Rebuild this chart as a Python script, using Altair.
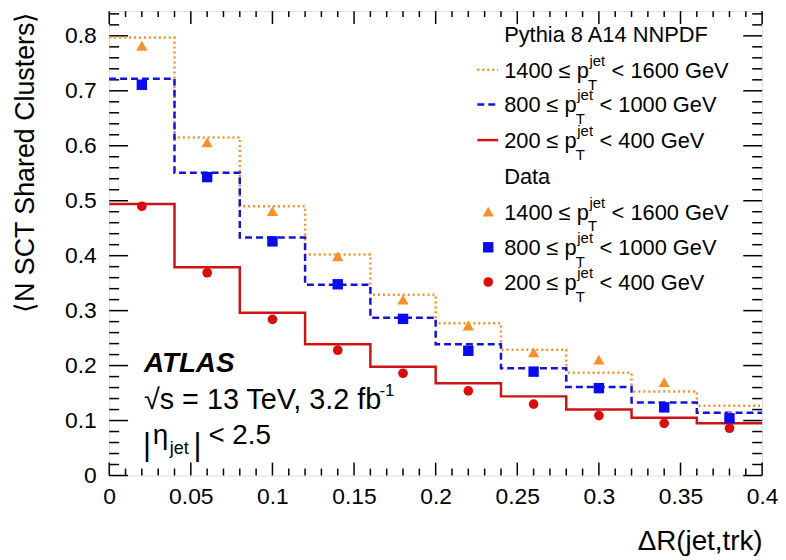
import altair as alt
import pandas as pd

# ---------------- data ----------------
edges = [0.0, 0.04, 0.08, 0.12, 0.16, 0.20, 0.24, 0.28, 0.32, 0.36, 0.40]
centers = [0.02, 0.06, 0.10, 0.14, 0.18, 0.22, 0.26, 0.30, 0.34, 0.38]

mc_1400 = [0.797, 0.615, 0.490, 0.402, 0.329, 0.277, 0.229, 0.187, 0.153, 0.127]
mc_800 = [0.722, 0.551, 0.433, 0.347, 0.287, 0.239, 0.195, 0.161, 0.133, 0.114]
mc_200 = [0.494, 0.379, 0.296, 0.239, 0.198, 0.168, 0.144, 0.120, 0.105, 0.095]

data_1400 = [0.782, 0.606, 0.481, 0.399, 0.320, 0.273, 0.224, 0.211, 0.170, 0.110]
data_800 = [0.711, 0.543, 0.426, 0.348, 0.285, 0.227, 0.189, 0.159, 0.124, 0.104]
data_200 = [0.490, 0.369, 0.284, 0.228, 0.186, 0.154, 0.130, 0.109, 0.095, 0.086]

x_major = [0, 0.05, 0.1, 0.15, 0.2, 0.25, 0.3, 0.35, 0.4]
x_minor = [round(0.01 * i, 2) for i in range(41) if i % 5 != 0]
y_major = [0, 0.1, 0.2, 0.3, 0.4, 0.5, 0.6, 0.7, 0.8]
y_minor = [round(0.02 * i, 2) for i in range(43) if i % 5 != 0]

ranges = [("1400", "1600"), ("800", "1000"), ("200", "400")]

# ---------------- style ----------------
W, H = 658, 468
FONT = "Liberation Sans"
ORANGE, BLUE, RED = "#f5902a", "#1414d2", "#cc1414"
BLUE_PT, RED_PT = "#0a0aee", "#d90d0d"

xs = alt.Scale(domain=[0, 0.4], nice=False, zero=False)
ys = alt.Scale(domain=[0, 0.845], nice=False, zero=False)

ARIAL = {" ": .278, "≤": .549, "p": .556, "<": .584, "G": .778, "e": .556,
         "V": .667, "j": .222, "t": .278, "T": .611}


def tw(s, size):
    return sum(ARIAL.get(c, .556) for c in s) * size


layers = []

# axes carrier (invisible)
axis_df = pd.DataFrame({"x": [0.0, 0.4], "y": [0.0, 0.8]})
layers.append(
    alt.Chart(axis_df).mark_point(opacity=0).encode(
        x=alt.X("x:Q", scale=xs, axis=alt.Axis(
            values=x_major, format="~g", ticks=False, domain=False, grid=False,
            labelFontSize=23, labelPadding=10, labelFlush=False, labelOverlap=False,
            labelColor="black", labelFont=FONT,
            title="ΔR(jet,trk)", titleFontSize=28, titleFontWeight="normal",
            titleFont=FONT, titleColor="black", titleX=W, titleY=75,
            titleAlign="right", titleBaseline="alphabetic")),
        y=alt.Y("y:Q", scale=ys, axis=alt.Axis(
            values=y_major, format="~g", ticks=False, domain=False, grid=False,
            labelFontSize=23, labelPadding=13, labelFlush=False, labelOverlap=False,
            labelColor="black", labelFont=FONT,
            title="⟨N SCT Shared Clusters⟩", titleFontSize=27,
            titleFontWeight="normal", titleFont=FONT, titleColor="black",
            titleX=-76, titleY=0, titleAngle=-90, titleAlign="right",
            titleBaseline="alphabetic")),
    )
)

# ---------- ticks (inward, ROOT style) ----------
def xticks(vals, length, top):
    df = pd.DataFrame({"x": vals})
    if top:
        yy, yy2 = 0, length
    else:
        yy, yy2 = H, H - length
    return alt.Chart(df).mark_rule(color="black", strokeWidth=1.5).encode(
        x=alt.X("x:Q", scale=xs),
        y=alt.value(yy), y2=alt.value(yy2))


def yticks(vals, length, right):
    df = pd.DataFrame({"y": vals})
    if right:
        xx, xx2 = W, W - length
    else:
        xx, xx2 = 0, length
    return alt.Chart(df).mark_rule(color="black", strokeWidth=1.5).encode(
        y=alt.Y("y:Q", scale=ys),
        x=alt.value(xx), x2=alt.value(xx2))


layers += [xticks(x_major, 13, False), xticks(x_minor, 7, False),
           xticks(x_major, 13, True), xticks(x_minor, 6, True),
           yticks(y_major, 19, False), yticks(y_minor, 10, False),
           yticks(y_major, 19, True), yticks(y_minor, 10, True)]

# ---------- MC step lines ----------
mc_series = [(mc_1400, ORANGE, [2, 3]), (mc_800, BLUE, [7, 4]), (mc_200, RED, None)]
for vals, col, dash in mc_series:
    df = pd.DataFrame({"x": edges, "y": vals + [vals[-1]]})
    kw = dict(color=col, strokeWidth=2.5, interpolate="step-after")
    if dash:
        kw["strokeDash"] = dash
    layers.append(alt.Chart(df).mark_line(**kw).encode(
        x=alt.X("x:Q", scale=xs),
        y=alt.Y("y:Q", scale=ys)))

# ---------- data markers ----------
data_series = [(data_1400, ORANGE, "triangle-up", 130),
               (data_800, BLUE_PT, "square", 110),
               (data_200, RED_PT, "circle", 95)]
for vals, col, shape, size in data_series:
    df = pd.DataFrame({"x": centers, "y": vals})
    layers.append(alt.Chart(df).mark_point(
        shape=shape, filled=True, color=col, size=size, opacity=1).encode(
        x=alt.X("x:Q", scale=xs),
        y=alt.Y("y:Q", scale=ys)))

# ---------- legend (built from text pieces) ----------
LX = 398
mc_base = [67, 102, 138]
data_base = [210, 246, 281]
pieces = []
pieces.append((LX, 31, "Pythia 8 A14 NNPDF", 22))
pieces.append((LX, 174, "Data", 22))
for base_list in (mc_base, data_base):
    for (lo, hi), b in zip(ranges, base_list):
        m1 = f"{lo} ≤ p"
        w1 = tw(m1, 22)
        pieces.append((LX, b, m1, 22))
        pieces.append((LX + w1 + 0.5, b - 12, "jet", 15))
        pieces.append((LX + w1 - 1, b + 12, "T", 15))
        pieces.append((LX + w1 + tw("jet", 15) + 7, b, f"< {hi} GeV", 22))

# annotations
SQ = 29
pieces.append((35, 401, "√s = 13 TeV, 3.2 fb", SQ))
pieces.append((35 + 8.15 * SQ + 1, 388, "-1", 17))
pieces.append((34, 447, "|", 31))
pieces.append((44, 436, "η", 28))
pieces.append((61, 446, "jet", 18))
pieces.append((85, 447, "|", 31))
pieces.append((100, 436, "< 2.5", 28))

txt_df = pd.DataFrame(pieces, columns=["px", "py", "text", "size"])
layers.append(alt.Chart(txt_df).mark_text(
    align="left", baseline="alphabetic", font=FONT, color="black").encode(
    x=alt.X("px:Q", scale=None),
    y=alt.Y("py:Q", scale=None),
    text="text:N",
    size=alt.Size("size:Q", scale=None, legend=None)))

atlas_df = pd.DataFrame({"px": [35], "py": [364], "text": ["ATLAS"]})
layers.append(alt.Chart(atlas_df).mark_text(
    align="left", baseline="alphabetic", font=FONT, fontSize=28,
    fontWeight="bold", fontStyle="italic", color="black").encode(
    x=alt.X("px:Q", scale=None),
    y=alt.Y("py:Q", scale=None),
    text="text:N"))

# legend samples
for (col, dash), b in zip([(ORANGE, [2, 3]), (BLUE, [7, 4]), (RED, None)], mc_base):
    df = pd.DataFrame({"px": [371], "px2": [392], "py": [b - 8]})
    kw = dict(color=col, strokeWidth=2.5)
    if dash:
        kw["strokeDash"] = dash
    layers.append(alt.Chart(df).mark_rule(**kw).encode(
        x=alt.X("px:Q", scale=None), x2="px2:Q",
        y=alt.Y("py:Q", scale=None)))

for (vals, col, shape, size), b in zip(data_series, data_base):
    df = pd.DataFrame({"px": [382], "py": [b - 8]})
    layers.append(alt.Chart(df).mark_point(
        shape=shape, filled=True, color=col, size=size, opacity=1).encode(
        x=alt.X("px:Q", scale=None),
        y=alt.Y("py:Q", scale=None)))

chart = alt.layer(*layers).properties(
    width=W, height=H,
    autosize=alt.AutoSizeParams(type="none"),
    padding={"left": 102, "top": 1, "right": 16, "bottom": 83},
).configure_view(stroke="black", strokeWidth=2).configure(font=FONT)

chart.save("out.html", embed_options={"renderer": "svg", "actions": False})
